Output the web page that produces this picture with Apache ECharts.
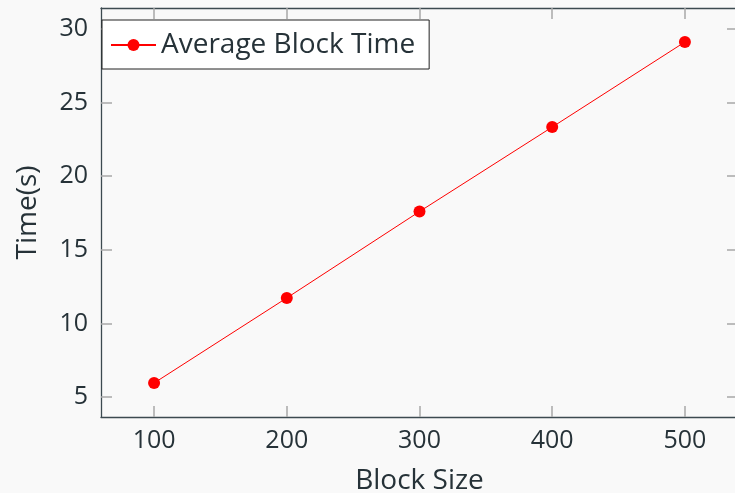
<!DOCTYPE html>
<html>
<head>
<meta charset="utf-8">
<script src="https://cdn.jsdelivr.net/npm/echarts@6/dist/echarts.min.js"></script>
<style>
html,body{margin:0;padding:0;background:#f9f9f9;}
#chart{width:735px;height:493px;}
</style>
</head>
<body>
<div id="chart"></div>
<script>
var blockSize=[100,200,300,400,500];
var avgTime=[5.95,11.73,17.6,23.34,29.12];
var xTicks=[100,200,300,400,500];
var yTicks=[5,10,15,20,25,30];

var points=[];
for(var i=0;i<blockSize.length;i++){
	points.push([blockSize[i],avgTime[i]]);
}

var font='"Open Sans", sans-serif';
var txt='#263238';
var lineCol='#3c4a50';
var tickCol='#a8a8a8';

function xAx(pos,main){
	return {
		type:'value',position:pos,min:60,max:540,
		name:main?'Block Size':'',nameLocation:'middle',nameGap:50,
		nameTextStyle:{fontSize:28,color:txt,fontFamily:font},
		axisLine:{show:true,onZero:false,lineStyle:{color:lineCol,width:1.3}},
		axisTick:{show:true,inside:true,length:11,customValues:xTicks,lineStyle:{color:tickCol,width:1.5}},
		axisLabel:{show:main,margin:11,fontSize:25,color:txt,fontFamily:font,customValues:xTicks},
		splitLine:{show:false}
	};
}
function yAx(pos,main){
	return {
		type:'value',position:pos,min:3.64,max:31.43,
		name:main?'Time(s)':'',nameLocation:'middle',nameGap:59,
		nameTextStyle:{fontSize:28,color:txt,fontFamily:font},
		axisLine:{show:true,onZero:false,lineStyle:{color:lineCol,width:1.3}},
		axisTick:{show:true,inside:true,length:11,customValues:yTicks,lineStyle:{color:tickCol,width:1.5}},
		axisLabel:{show:main,margin:13,fontSize:25,color:txt,fontFamily:font,customValues:yTicks},
		splitLine:{show:false}
	};
}

var chart=echarts.init(document.getElementById('chart'));
chart.setOption({
	backgroundColor:'#f9f9f9',
	animation:false,
	grid:{left:101,top:8,right:-3,bottom:76,outerBoundsMode:'none',containLabel:false},
	legend:{
		data:['Average Block Time'],left:102,top:20,
		itemWidth:45,itemHeight:15,itemGap:0,
		padding:[11,14,10,8],
		backgroundColor:'#ffffff',borderColor:'#222',borderWidth:1,borderRadius:0,
		textStyle:{fontSize:28,color:txt,fontFamily:font}
	},
	xAxis:[xAx('bottom',true),xAx('top',false)],
	yAxis:[yAx('left',true),yAx('right',false)],
	series:[{
		name:'Average Block Time',type:'line',data:points,
		xAxisIndex:0,yAxisIndex:0,
		symbol:'circle',symbolSize:12,
		itemStyle:{color:'#ff0000'},
		lineStyle:{color:'#ff0000',width:1}
	}]
});
</script>
</body>
</html>
